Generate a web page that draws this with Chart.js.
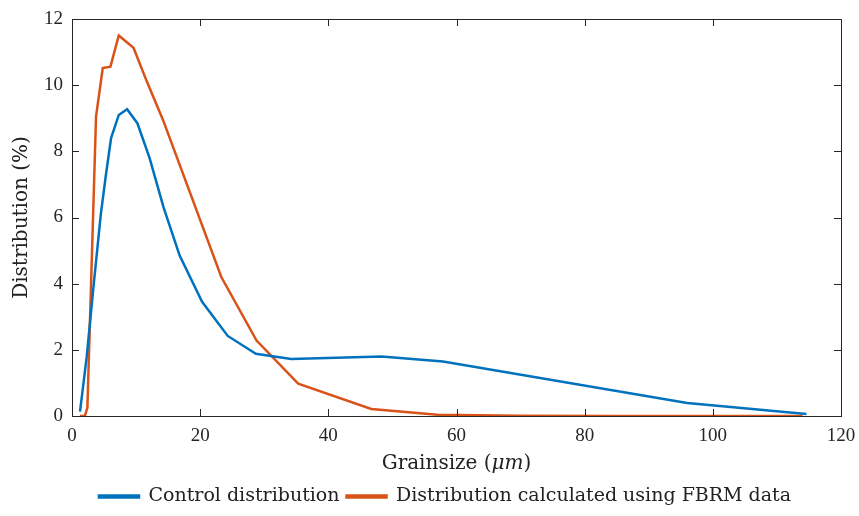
<!DOCTYPE html>
<html>
<head>
<meta charset="utf-8">
<script src="https://cdn.jsdelivr.net/npm/chart.js@4"></script>
<style>
html,body{margin:0;padding:0;background:#fff;}
#wrap{width:859px;height:516px;}
</style>
</head>
<body>
<div id="wrap"><canvas id="c" width="859" height="516"></canvas></div>
<script>
const controlX = [1.25, 2.3, 3.4, 4.5, 5.3, 6.1, 7.3, 8.6, 10.2, 12.1, 14.3, 16.8, 20.3, 24.3, 28.7, 34.2, 48.3, 57.9, 96, 114.6];
const controlY = [0.13, 1.8, 4.0, 6.1, 7.3, 8.4, 9.1, 9.27, 8.85, 7.8, 6.3, 4.85, 3.45, 2.42, 1.88, 1.72, 1.8, 1.65, 0.39, 0.06];
const fbrmX = [1.25, 2.0, 2.4, 3.75, 4.8, 6.0, 7.3, 9.6, 11.7, 14.2, 23.3, 28.8, 35.3, 46.7, 57, 70, 85, 100, 114];
const fbrmY = [0, 0, 0.25, 9.05, 10.52, 10.56, 11.5, 11.13, 10.1, 8.95, 4.2, 2.28, 0.98, 0.21, 0.04, 0.01, 0, 0, 0];
const xTicks = [0, 20, 40, 60, 80, 100, 120];
const yTicks = [0, 2, 4, 6, 8, 10, 12];
const seriesNames = ['Control distribution', 'Distribution calculated using FBRM data'];
const xTitleParts = ['Grainsize (', '\u03BCm', ')'];
const yTitle = 'Distribution (%)';

const SERIF = '"Liberation Serif", serif';
const WSERIF = '"DejaVu Serif", serif';
const AX = '#262626';
const BLUE = '#0072BD', ORANGE = '#D95319';

function pts(xs, ys){ return xs.map((x,i)=>({x:x, y:ys[i]})); }

const boxPlugin = {
  id:'box',
  afterLayout(chart){
    // let y tick labels extend into the left padding (not clipped)
    chart.scales.y.left = 0;
  },
  afterDraw(chart){
    const ctx = chart.ctx, a = chart.chartArea;
    const xs = chart.scales.x, ys = chart.scales.y;
    ctx.save();
    ctx.strokeStyle = AX; ctx.lineWidth = 1;
    ctx.strokeRect(Math.round(a.left)+0.5, Math.round(a.top)+0.5, Math.round(a.right-a.left), Math.round(a.bottom-a.top));
    const L = 7;
    ctx.beginPath();
    xTicks.forEach(v=>{
      const p = Math.round(xs.getPixelForValue(v))+0.5;
      ctx.moveTo(p, a.bottom); ctx.lineTo(p, a.bottom-L);
      ctx.moveTo(p, a.top); ctx.lineTo(p, a.top+L);
    });
    yTicks.forEach(v=>{
      const p = Math.round(ys.getPixelForValue(v))+0.5;
      ctx.moveTo(a.left, p); ctx.lineTo(a.left+L, p);
      ctx.moveTo(a.right, p); ctx.lineTo(a.right-L, p);
    });
    ctx.stroke();
    // x title with italic unit
    ctx.fillStyle = '#222';
    ctx.textBaseline = 'middle';
    const fN = '20px ' + WSERIF, fI = 'italic 20px ' + WSERIF;
    ctx.font = fN; const w0 = ctx.measureText(xTitleParts[0]).width, w2 = ctx.measureText(xTitleParts[2]).width;
    ctx.font = fI; const w1 = ctx.measureText(xTitleParts[1]).width;
    const cx = (a.left + a.right)/2;
    let x = cx - (w0+w1+w2)/2; const y = 464;
    ctx.textAlign = 'left';
    ctx.font = fN; ctx.fillText(xTitleParts[0], x, y); x += w0;
    ctx.font = fI; ctx.fillText(xTitleParts[1], x, y); x += w1;
    ctx.font = fN; ctx.fillText(xTitleParts[2], x, y);
    // y title
    ctx.translate(22, (a.top + a.bottom)/2);
    ctx.rotate(-Math.PI/2);
    ctx.textAlign = 'center';
    ctx.font = fN;
    ctx.fillText(yTitle, 0, 0);
    ctx.restore();
  }
};

new Chart(document.getElementById('c'), {
  type: 'scatter',
  data: {
    datasets: [
      {label: seriesNames[0], data: pts(controlX, controlY), showLine:true, borderColor:BLUE, backgroundColor:BLUE, borderWidth:2.5, pointRadius:0, tension:0},
      {label: seriesNames[1], data: pts(fbrmX, fbrmY), showLine:true, borderColor:ORANGE, backgroundColor:ORANGE, borderWidth:2.5, pointRadius:0, tension:0}
    ]
  },
  options: {
    responsive:false,
    animation:false,
    devicePixelRatio:1,
    layout:{padding:{top:19, right:18, left:49, bottom:0}},
    plugins:{
      legend:{
        position:'bottom',
        labels:{
          font:{family:WSERIF, size:19},
          color:'#222',
          boxWidth:40, boxHeight:2,
          padding:7
        }
      },
      tooltip:{enabled:false}
    },
    scales:{
      x:{
        type:'linear', min:0, max:120,
        afterBuildTicks(s){ s.ticks = xTicks.map(v=>({value:v})); },
        grid:{display:false, drawTicks:false},
        border:{display:false},
        ticks:{font:{family:SERIF, size:19}, color:AX, padding:9, maxRotation:0},
        afterFit(s){ s.height = 64; s.paddingLeft = 0; s.paddingRight = 0; }
      },
      y:{
        type:'linear', min:0, max:12,
        afterBuildTicks(s){ s.ticks = yTicks.map(v=>({value:v})); },
        grid:{display:false, drawTicks:false},
        border:{display:false},
        ticks:{font:{family:SERIF, size:19}, color:AX, padding:9},
        afterFit(s){ s.width = 23; s.paddingTop = 0; s.paddingBottom = 0; }
      }
    }
  },
  plugins:[boxPlugin]
});
</script>
</body>
</html>
